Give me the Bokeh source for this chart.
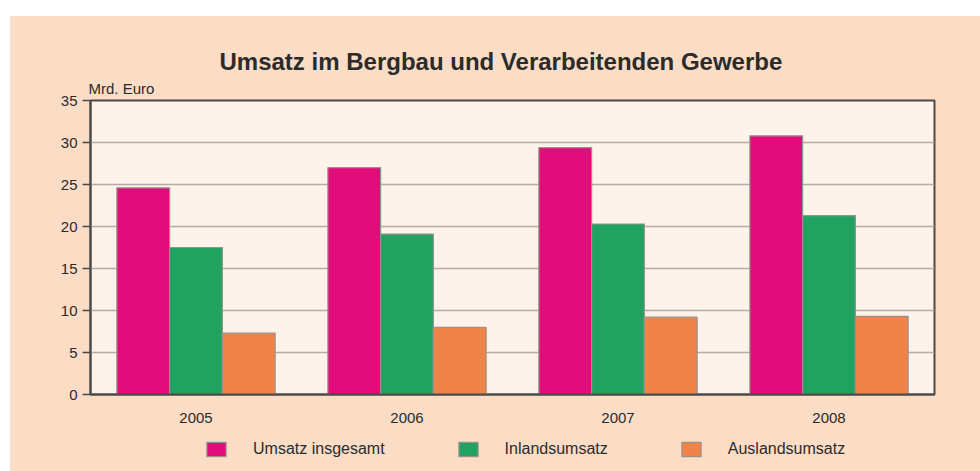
from bokeh.plotting import figure
from bokeh.models import (FactorRange, Range1d, Legend, LegendItem, Title,
                          FixedTicker, ColumnDataSource, Spacer)
from bokeh.layouts import column, row
from bokeh.transform import dodge
from bokeh.embed import file_html
from bokeh.resources import INLINE

# ---- data ----
years = ["2005", "2006", "2007", "2008"]
umsatz_insgesamt = [24.6, 27.0, 29.4, 30.8]
inlandsumsatz = [17.5, 19.1, 20.3, 21.3]
auslandsumsatz = [7.3, 8.0, 9.2, 9.3]
series_names = ["Umsatz insgesamt", "Inlandsumsatz", "Auslandsumsatz"]
y_ticks = [0, 5, 10, 15, 20, 25, 30, 35]
title_text = "Umsatz im Bergbau und Verarbeitenden Gewerbe"
unit_text = "Mrd. Euro"

# ---- style ----
colors = ["#E20C7A", "#21A260", "#EF8348"]
outer_bg = "#FBDCC5"
plot_bg = "#FEF3EA"
text_col = "#2B2B2B"
axis_col = "#4A4A4A"
bar_line = "#9A918B"
font = "Liberation Sans"

src = ColumnDataSource(dict(years=years, u=umsatz_insgesamt,
                            i=inlandsumsatz, a=auslandsumsatz))
cols = ["u", "i", "a"]
bw = 0.25
offsets = [-bw, 0.0, bw]

W = 970
# ---------------- main chart ----------------
p = figure(width=W, height=416, x_range=FactorRange(*years),
           y_range=Range1d(0, 35), output_backend="svg",
           toolbar_location=None, min_border_left=80, min_border_right=46,
           min_border_top=84, min_border_bottom=38)
p.background_fill_color = plot_bg
p.border_fill_color = outer_bg
p.outline_line_color = axis_col
p.outline_line_width = 2
p.x_range.range_padding = 0

for c, off, col in zip(cols, offsets, colors):
    p.vbar(x=dodge("years", off, range=p.x_range), top=c, width=bw,
           source=src, fill_color=col, line_color=bar_line, line_width=1.2)

p.yaxis.ticker = FixedTicker(ticks=y_ticks)
p.yaxis.axis_line_color = axis_col
p.yaxis.axis_line_width = 2
p.yaxis.major_tick_line_color = axis_col
p.yaxis.major_tick_line_width = 1.5
p.yaxis.major_tick_out = 8
p.yaxis.major_tick_in = 0
p.yaxis.minor_tick_line_color = None
p.yaxis.major_label_standoff = 5
p.yaxis.major_label_text_font = font
p.yaxis.major_label_text_font_size = "15px"
p.yaxis.major_label_text_color = text_col

p.xaxis.axis_line_color = axis_col
p.xaxis.axis_line_width = 2
p.xaxis.major_tick_line_color = None
p.xaxis.minor_tick_line_color = None
p.xaxis.major_tick_out = 0
p.xaxis.major_tick_in = 0
p.xaxis.major_label_standoff = 18
p.xaxis.major_label_text_font = font
p.xaxis.major_label_text_font_size = "15px"
p.xaxis.major_label_text_color = text_col

p.xgrid.grid_line_color = None
p.ygrid.ticker = FixedTicker(ticks=y_ticks)
p.ygrid.grid_line_color = "#B3ABA5"
p.ygrid.grid_line_width = 1.5

# main title (outer) and unit label (next to the frame)
p.title.text = title_text
p.title.align = "left"
p.title.offset = 129
p.title.standoff = 0
p.title.text_font = font
p.title.text_font_size = "24px"
p.title.text_font_style = "bold"
p.title.text_color = text_col

p.add_layout(Title(text=unit_text, align="left", offset=-2, standoff=7,
                   text_font=font, text_font_size="15px",
                   text_font_style="normal", text_color=text_col), "above")

# ---------------- legend strip ----------------
q = figure(width=W, height=39, x_range=FactorRange(*years),
           y_range=Range1d(1000, 1001), output_backend="svg",
           toolbar_location=None, min_border=0,
           x_axis_type=None, y_axis_type=None)
q.background_fill_alpha = 0
q.border_fill_color = outer_bg
q.outline_line_color = None
q.xgrid.grid_line_color = None
q.ygrid.grid_line_color = None
renderers = []
for c, off, col in zip(cols, offsets, colors):
    r = q.vbar(x=dodge("years", off, range=q.x_range), top=c, width=bw,
               source=src, fill_color=col, line_color=bar_line, line_width=1.2)
    renderers.append(r)

legend = Legend(items=[LegendItem(label=n, renderers=[r])
                       for n, r in zip(series_names, renderers)],
                orientation="horizontal", location=(114, 13),
                background_fill_alpha=0, border_line_color=None,
                padding=0, margin=0, spacing=71, label_standoff=25,
                glyph_width=24, glyph_height=18,
                label_text_font=font, label_text_font_size="16px",
                label_text_color=text_col)
q.add_layout(legend, "center")

chart = column(p, q, styles={"background-color": outer_bg})
layout = column(Spacer(height=16, width=10),
                row(Spacer(width=10, height=10), chart))

open("out.html", "w").write(file_html(layout, INLINE))
